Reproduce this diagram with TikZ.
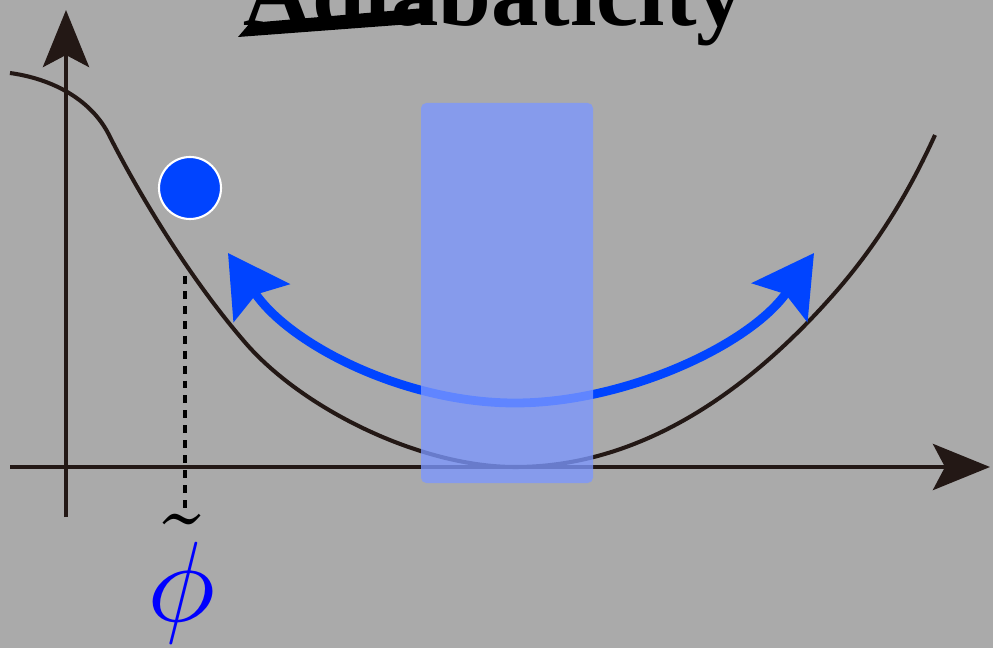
\documentclass[tikz,border=0pt]{standalone}
\usepackage{graphicx}
\usepackage{fontspec}
\setmainfont{Liberation Serif}
\usetikzlibrary{arrows.meta}
\definecolor{cAxis}{RGB}{35,24,21}
\definecolor{cBall}{RGB}{0,68,255}
\definecolor{cBack}{RGB}{170,170,170}
\definecolor{cBand}{RGB}{124,152,255}
\definecolor{cPhi}{RGB}{0,0,255}

\begin{document}
\begin{tikzpicture}[x=0.02cm, y=-0.02cm,
      axis/.style={draw=cAxis, line width=2.8pt,
                   -{Stealth[length=1.14cm, width=0.92cm, inset=0.24cm]}},
      pot/.style={draw=cAxis, line width=2.3pt},
      swing/.style={draw=cBall, line width=5pt,
                    {Stealth[length=1.2cm, width=1.34cm, inset=0.2cm]}-{Stealth[length=1.2cm, width=1.34cm, inset=0.2cm]}},
      band/.style={fill=cBand, fill opacity=0.78, rounded corners=3pt},
      ball/.style={circle, fill=cBall, draw=white, line width=1.2pt, minimum size=1.24cm, inner sep=0pt},
      guide/.style={draw=black, line width=2.2pt, dash pattern=on 4.5pt off 4pt},
      title/.style={font=\fontsize{54}{54}\selectfont\bfseries, inner sep=0pt, anchor=base}]
    \clip (0,0) rectangle (993,648);
    \fill[cBack] (0,0) rectangle (993,648);

    % axes
    \coordinate (xstart) at (10,467);
    \coordinate (xend)   at (990,467);
    \coordinate (ystart) at (66,517);
    \coordinate (yend)   at (66,10);
    \draw[axis] (xstart) -- (xend);
    \draw[axis] (ystart) -- (yend);

    % potential
    \draw[pot] (10,73) .. controls (60,80) and (95,105) .. (110,137)
               .. controls (150,215) and (200,290) .. (243,340)
               .. controls (300,408) and (420,467) .. (515,467)
               .. controls (650,467) and (760,380) .. (840,287)
               .. controls (880,240) and (910,190) .. (935,135);

    % oscillation
    \coordinate (swingL) at (228,253);
    \coordinate (swingM) at (515,403);
    \coordinate (swingR) at (814,253);
    \draw[swing] (swingL) .. controls (290,345) and (405,403) .. (swingM)
                 .. controls (625,403) and (750,345) .. (swingR);

    \node[ball] (bead) at (190,188) {};

    % field value
    \coordinate (phiTop) at (185,276);
    \coordinate (phiBot) at (185,510);
    \draw[guide] (phiTop) -- (phiBot);
    \node[inner sep=0pt, anchor=base] (phiLbl) at (182,621)
         {\scalebox{6.5}{$\tilde{\textcolor{cPhi}{\phi}}$}};

    \fill[band] (421,103) rectangle (593,483);

    % title
    \node[title] (ttl) at (494,26) {Adiabaticity};
    \fill[black] (238,37) -- (250,23) -- (425,8) -- (425,23) -- cycle;
  \end{tikzpicture}
\end{document}
